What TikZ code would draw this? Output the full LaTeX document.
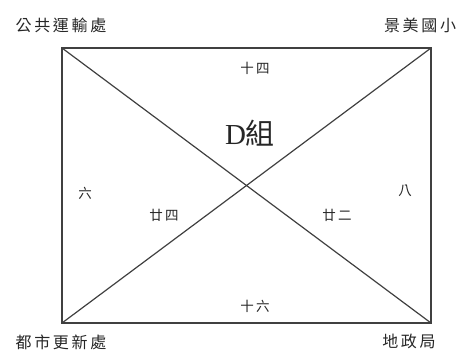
\documentclass[tikz,border=0pt]{standalone}
\usepackage{fontspec}
\setmainfont{Liberation Serif}
\newfontfamily\cjk{Noto Sans CJK TC}
\begin{document}
\begin{tikzpicture}[x=1pt,y=-1pt,
  corner/.style={font=\cjk\fontsize{16}{16}\selectfont, text=black!85, inner sep=0pt},
  inlbl/.style={font=\cjk\fontsize{13.5}{13.5}\selectfont, text=black!85, inner sep=0pt},
  edge/.style={draw=black!75, line width=1.2pt}]
\useasboundingbox (0,0) rectangle (463,351);
\coordinate (tl) at (62,48);
\coordinate (tr) at (431,48);
\coordinate (bl) at (62,323);
\coordinate (br) at (431,323);
\draw[edge] (tl) rectangle (br);
\draw[edge] (tl) -- (br);
\draw[edge] (bl) -- (tr);
\node[corner] (a) at (61,25) {公\,共\,運\,輸\,處};
\node[corner] (b) at (420,25) {景\,美\,國\,小};
\node[corner] (c) at (61,342) {都\,市\,更\,新\,處};
\node[corner] (d) at (409,341) {地\,政\,局};
\node[inlbl] (n14) at (255,68) {十\,四};
\node[font=\fontsize{29}{29}\selectfont, inner sep=0pt, text=black!85] (g) at (250,133) {D\cjk 組};
\node[inlbl] (n6) at (85,193) {六};
\node[inlbl] (n8) at (405,191) {八};
\node[inlbl] (n24) at (164,215) {廿\,四};
\node[inlbl] (n22) at (337,215) {廿\,二};
\node[inlbl] (n16) at (255,306) {十\,六};
\end{tikzpicture}
\end{document}
